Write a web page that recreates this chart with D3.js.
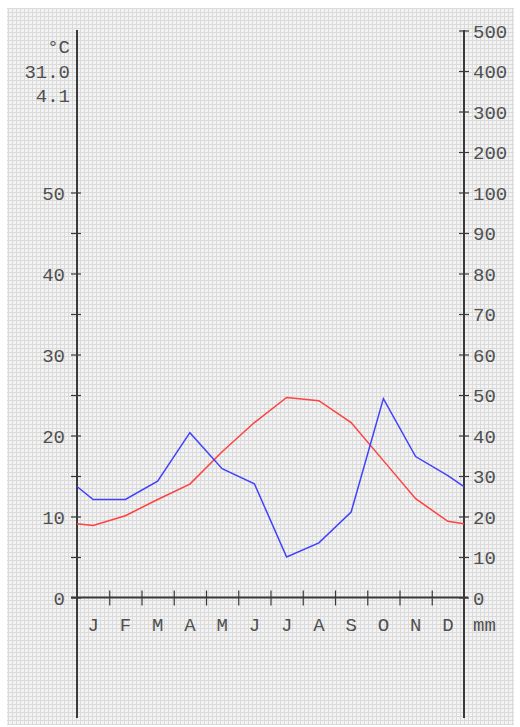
<!DOCTYPE html>
<html>
<head>
<meta charset="utf-8">
<script src="https://cdn.jsdelivr.net/npm/d3@7"></script>
<style>
  html, body { margin: 0; padding: 0; background: #ffffff; }
  svg { display: block; }
  text { font-family: "Liberation Mono", "DejaVu Sans Mono", monospace; fill: #505050; }
</style>
</head>
<body>
<svg id="chart" width="520" height="727"></svg>
<script>
// ---- data ----
const months = ["J","F","M","A","M","J","J","A","S","O","N","D"];
const temperature = [8.9, 10.1, 12.1, 14.0, 18.0, 21.6, 24.7, 24.3, 21.6, 16.9, 12.2, 9.4]; // °C
const precipitation = [24.2, 24.2, 28.7, 40.7, 31.8, 28.1, 10.0, 13.5, 21.1, 49.1, 34.8, 30.1]; // mm
const temperatureEdge = 9.1;    // value where the red line meets both side axes
const precipitationEdge = 27.4; // value where the blue line meets both side axes
const headerLines = ["°C", "31.0", "4.1"];
const tempTicks = [0, 5, 10, 15, 20, 25, 30, 35, 40, 45, 50];
const tempLabelTicks = [0, 10, 20, 30, 40, 50];
const precipTicks = [0, 10, 20, 30, 40, 50, 60, 70, 80, 90, 100, 200, 300, 400, 500];
const precipUnit = "mm";

// ---- layout ----
const svg = d3.select("#chart");
const X0 = 77, X1 = 464, Y0 = 597.5, Y50 = 192.5, YTOP = 30, YBOT = 718;

// background texture
const defs = svg.append("defs");
const pat = defs.append("pattern").attr("id", "grid").attr("width", 4).attr("height", 4)
  .attr("patternUnits", "userSpaceOnUse");
pat.append("rect").attr("width", 4).attr("height", 4).attr("fill", "#f3f3f3");
pat.append("rect").attr("width", 4).attr("height", 1).attr("fill", "#dadada");
pat.append("rect").attr("width", 1).attr("height", 4).attr("fill", "#dadada");
svg.append("rect").attr("x", 7).attr("y", 8).attr("width", 507).attr("height", 717).attr("fill", "url(#grid)");

// scales
const x = d3.scaleLinear().domain([0, 12]).range([X0, X1]);
const yT = d3.scaleLinear().domain([0, 50]).range([Y0, Y50]);
const yP = d3.scaleLinear().domain([0, 100, 500]).range([Y0, Y50, Y50 - 4 * (Y0 - Y50) / 10]);

const axisColor = "#3a3a3a";
const fs = 19;

// left axis
const gL = svg.append("g").attr("transform", `translate(${X0},0)`)
  .call(d3.axisLeft(yT).tickValues(tempTicks).tickSize(6)
    .tickFormat(d => tempLabelTicks.includes(d) ? d : ""));
gL.select(".domain").remove();
gL.selectAll(".tick line").attr("x1", 4).attr("x2", -6).attr("stroke", axisColor).attr("stroke-width", 1.2);
gL.selectAll(".tick text").attr("x", -12).attr("dy", "0.35em")
  .style("font-size", fs + "px").style("font-family", null).attr("fill", "#505050");
gL.attr("font-family", null).attr("font-size", null);

// right axis
const gR = svg.append("g").attr("transform", `translate(${X1},0)`)
  .call(d3.axisRight(yP).tickValues(precipTicks).tickSize(5).tickFormat(d3.format("d")));
gR.select(".domain").remove();
gR.selectAll(".tick line").attr("x1", -5).attr("x2", 5).attr("stroke", axisColor).attr("stroke-width", 1.2);
gR.selectAll(".tick text").attr("x", 9).attr("dy", "0.35em")
  .style("font-size", fs + "px").attr("fill", "#505050");
gR.attr("font-family", null).attr("font-size", null);

// vertical axis lines
svg.append("line").attr("x1", X0).attr("x2", X0).attr("y1", YTOP).attr("y2", YBOT)
  .attr("stroke", axisColor).attr("stroke-width", 2);
svg.append("line").attr("x1", X1).attr("x2", X1).attr("y1", YTOP).attr("y2", YBOT)
  .attr("stroke", axisColor).attr("stroke-width", 2);

// month axis on zero line
const gX = svg.append("g").attr("transform", `translate(0,${Y0})`)
  .call(d3.axisBottom(x).tickValues(d3.range(1, 12)).tickSize(8).tickFormat(""));
gX.select(".domain").remove();
gX.selectAll(".tick line").attr("y1", -7).attr("y2", 8).attr("stroke", axisColor).attr("stroke-width", 1.2);
svg.append("line").attr("x1", X0 - 6).attr("x2", X1 + 4).attr("y1", Y0).attr("y2", Y0)
  .attr("stroke", axisColor).attr("stroke-width", 2);

svg.append("g").selectAll("text").data(months).join("text")
  .attr("x", (d, i) => x(i + 0.5)).attr("y", 631)
  .attr("text-anchor", "middle").style("font-size", fs + "px").text(d => d);
svg.append("text").attr("x", 473).attr("y", 631).style("font-size", fs + "px").text(precipUnit);

// header text
svg.append("g").selectAll("text").data(headerLines).join("text")
  .attr("x", 70).attr("y", (d, i) => 53 + i * 24.5)
  .attr("text-anchor", "end").style("font-size", fs + "px").text(d => d);

// lines
function series(vals, edge) {
  return [[0, edge]].concat(vals.map((v, i) => [i + 0.5, v])).concat([[12, edge]]);
}
svg.append("path").datum(series(temperature, temperatureEdge))
  .attr("fill", "none").attr("stroke", "#ff4040").attr("stroke-width", 1.5)
  .attr("d", d3.line().x(d => x(d[0])).y(d => yT(d[1])));
svg.append("path").datum(series(precipitation, precipitationEdge))
  .attr("fill", "none").attr("stroke", "#4040ff").attr("stroke-width", 1.5)
  .attr("d", d3.line().x(d => x(d[0])).y(d => yP(d[1])));
</script>
</body>
</html>
